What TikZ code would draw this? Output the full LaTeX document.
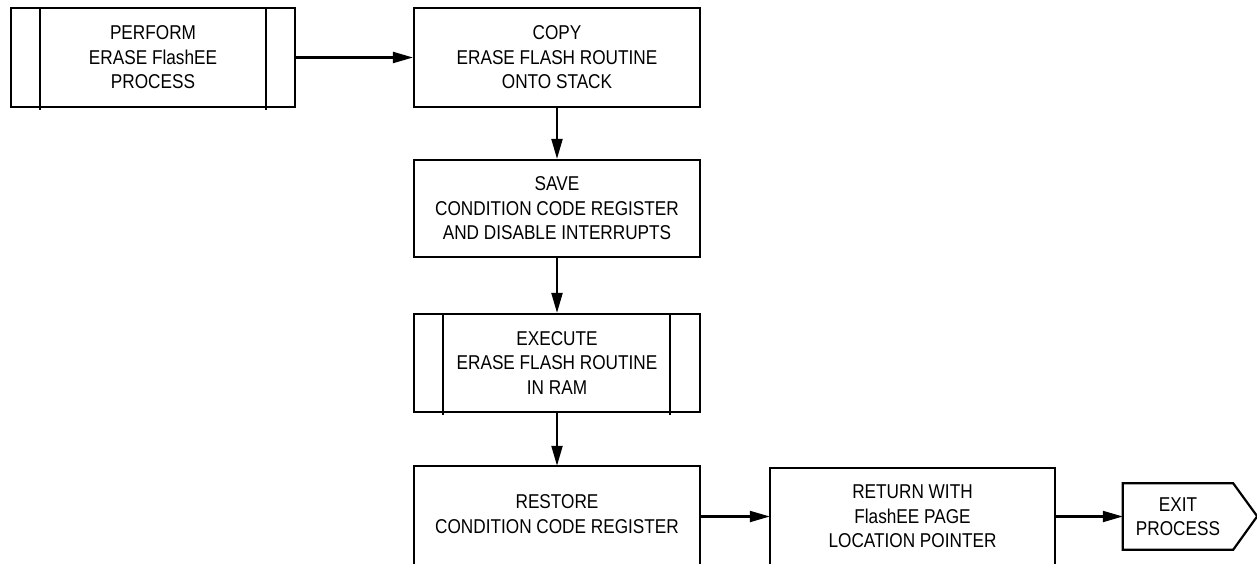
\documentclass[tikz,border=0pt]{standalone}
\usepackage{fontspec}
\setmainfont{Liberation Sans}[FakeStretch=0.86]
\usetikzlibrary{arrows.meta}

\begin{document}
\begin{tikzpicture}[x=1pt, y=-1pt,
  every node/.style={font=\fontsize{20}{24.5}\selectfont, align=center, inner sep=0pt},
  outline/.style={line width=2.2pt},
  box/.style={draw, outline, rectangle, minimum width=286pt, minimum height=98pt},
  openbox/.style={rectangle, minimum width=286pt, minimum height=96pt},
  flow/.style={line width=2.1pt, -{Triangle[length=20pt, width=11pt]}}
]
\useasboundingbox (0,0) rectangle (1257,564);

% process steps
\node[box, minimum width=284pt, minimum height=99pt] (perform) at (153,57.5)
  {PERFORM\\ERASE FlashEE\\PROCESS};
\node[box, minimum height=99pt] (copy) at (557,57.5) {COPY\\ERASE FLASH ROUTINE\\ONTO STACK};
\node[box, minimum height=97pt] (save) at (557,208.5)
  {SAVE\\CONDITION CODE REGISTER\\AND DISABLE INTERRUPTS};
\node[box] (execute) at (557,363) {EXECUTE\\ERASE FLASH ROUTINE\\IN RAM};
\node[openbox] (restore) at (557,514) {RESTORE\\CONDITION CODE REGISTER};
\node[openbox, minimum width=285pt] (return) at (912.5,516.5)
  {RETURN WITH\\FlashEE PAGE\\LOCATION POINTER};
\node[rectangle, minimum width=110pt, minimum height=66pt] (exit) at (1178,516.5)
  {EXIT\\PROCESS};

% side bars of the predefined-process boxes
\draw[outline] ([xshift=30pt]perform.north west) -- ([xshift=30pt, yshift=-2pt]perform.south west);
\draw[outline] ([xshift=-30pt]perform.north east) -- ([xshift=-30pt, yshift=-2pt]perform.south east);
\draw[outline] ([xshift=30pt]execute.north west) -- ([xshift=30pt, yshift=-2pt]execute.south west);
\draw[outline] ([xshift=-31pt]execute.north east) -- ([xshift=-31pt, yshift=-2pt]execute.south east);

% boxes running off the lower edge
\draw[outline] ([yshift=-20pt]restore.south west) -- (restore.north west)
  -- (restore.north east) -- ([yshift=-20pt]restore.south east);
\draw[outline] ([yshift=-20pt]return.south west) -- (return.north west)
  -- (return.north east) -- ([yshift=-20pt]return.south east);

% exit terminal
\draw[outline, line join=miter] (exit.north west) -- (exit.north east) -- ++(24,33)
  -- (exit.south east) -- (exit.south west) -- cycle;

% connectors
\draw[flow] (perform.east) -- (copy.west);
\draw[flow] (copy.south) -- (save.north);
\draw[flow] (save.south) -- (execute.north);
\draw[flow] (execute.south) -- (restore.north);
\draw[flow] (restore.east |- return.west) -- (return.west);
\draw[flow] (return.east) -- (exit.west);
\end{tikzpicture}
\end{document}
